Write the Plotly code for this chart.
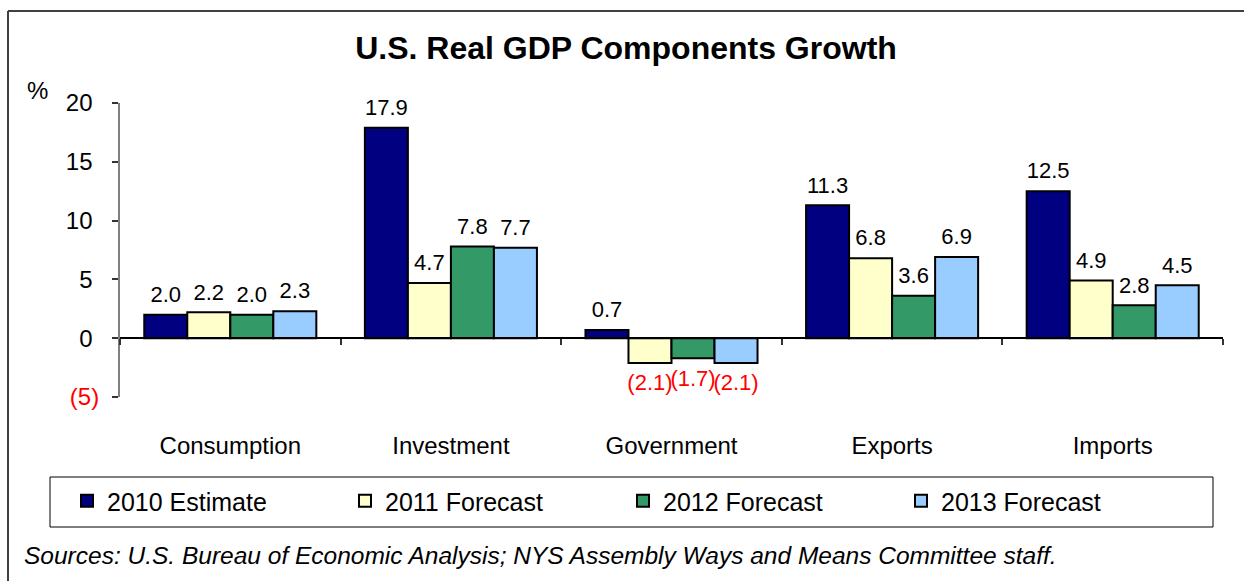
import plotly.graph_objects as go

categories = ["Consumption", "Investment", "Government", "Exports", "Imports"]
series_names = ["2010 Estimate", "2011 Forecast", "2012 Forecast", "2013 Forecast"]
est_2010 = [2.0, 17.9, 0.7, 11.3, 12.5]
fc_2011 = [2.2, 4.7, -2.1, 6.8, 4.9]
fc_2012 = [2.0, 7.8, -1.7, 3.6, 2.8]
fc_2013 = [2.3, 7.7, -2.1, 6.9, 4.5]
series_values = [est_2010, fc_2011, fc_2012, fc_2013]
series_colors = ["#000080", "#FFFFCC", "#339966", "#99CCFF"]

y_tickvals = [-5, 0, 5, 10, 15, 20]
y_ticktext = ["<span style='color:#FF0000'>(5)</span>",
              "0\u00a0", "5\u00a0", "10\u00a0", "15\u00a0", "20\u00a0"]

FONT = "Liberation Sans, Arial, sans-serif"


def fmt(v):
    return f"({abs(v):.1f})" if v < 0 else f"{v:.1f}"


fig = go.Figure()
for name, vals, col in zip(series_names, series_values, series_colors):
    fig.add_trace(go.Bar(
        name=name,
        x=categories,
        y=vals,
        offsetgroup=name,
        marker=dict(color=col, line=dict(color="#000000", width=2)),
        hoverinfo="x+y",
    ))

# value labels, grouped to sit over their bars
for name, vals in zip(series_names, series_values):
    fig.add_trace(go.Scatter(
        x=categories,
        y=vals,
        offsetgroup=name,
        mode="text+markers",
        marker=dict(size=[16 if v < 0 else 10 for v in vals], opacity=0),
        text=[fmt(v) for v in vals],
        textposition=["bottom center" if v < 0 else "top center" for v in vals],
        textfont=dict(family=FONT, size=22,
                      color=["#FF0000" if v < 0 else "#000000" for v in vals]),
        cliponaxis=False,
        showlegend=False,
        hoverinfo="skip",
    ))

# invisible helper trace so the zero-line axis with boundary ticks is drawn
fig.add_trace(go.Scatter(
    x=categories, y=[0] * len(categories), xaxis="x2", mode="markers",
    marker=dict(opacity=0), showlegend=False, hoverinfo="skip",
))

L, R, T, B = 120, 21, 103, 184
W, H = 1244, 581
pw, ph = W - L - R, H - T - B


def px_x(x):
    return (x - L) / pw


def px_y(y):
    return (H - B - y) / ph


fig.update_layout(
    width=W, height=H,
    margin=dict(l=L, r=R, t=T, b=B, pad=0),
    paper_bgcolor="white", plot_bgcolor="white",
    font=dict(family=FONT, size=24, color="#000000"),
    barmode="group", bargap=0.22, bargroupgap=0,
    scattermode="group", scattergap=0.22,
    title=dict(text="<b>U.S. Real GDP Components Growth</b>",
               x=px_x(626), xanchor="center", xref="paper",
               y=1 - 48 / H, yanchor="middle",
               font=dict(family=FONT, size=32, color="#000000")),
    xaxis=dict(type="category", showline=False, ticks="", showgrid=False,
               zeroline=False, tickfont=dict(size=24), ticklabelstandoff=32),
    xaxis2=dict(type="category", overlaying="x", matches="x", anchor="free",
                position=5 / 25, side="bottom", showline=True,
                linecolor="#000000", linewidth=1.5, ticks="outside",
                tickson="boundaries", ticklen=6, tickcolor="#333333",
                tickwidth=1.5, showticklabels=False, showgrid=False),
    yaxis=dict(range=[-5, 20], tickvals=y_tickvals, ticktext=y_ticktext,
               showline=True, linecolor="#808080", linewidth=2,
               ticks="outside", ticklen=6, tickcolor="#333333", tickwidth=1.5,
               showgrid=False, zeroline=False, tickfont=dict(size=24),
               ticklabelstandoff=8),
    legend=dict(orientation="h", x=px_x(67), xanchor="left",
                y=px_y(501), yanchor="middle", entrywidth=233,
                entrywidthmode="pixels", bgcolor="rgba(0,0,0,0)",
                font=dict(family=FONT, size=25), traceorder="normal"),
    showlegend=True,
)

# outer frame (left and top edges) and legend frame
fig.add_shape(type="line", xref="paper", yref="paper",
              x0=px_x(8), x1=px_x(8), y0=px_y(H + 5), y1=px_y(11),
              line=dict(color="#404040", width=2))
fig.add_shape(type="line", xref="paper", yref="paper",
              x0=px_x(8), x1=px_x(W + 5), y0=px_y(11), y1=px_y(11),
              line=dict(color="#404040", width=2))
fig.add_shape(type="rect", xref="paper", yref="paper",
              x0=px_x(50), x1=px_x(1213), y0=px_y(527), y1=px_y(477),
              line=dict(color="#000000", width=1), fillcolor="rgba(0,0,0,0)")

fig.add_annotation(text="%", xref="paper", yref="paper",
                   x=px_x(37), y=px_y(91), xanchor="center", yanchor="middle",
                   showarrow=False, font=dict(family=FONT, size=24))
fig.add_annotation(
    text="<i>Sources: U.S. Bureau of Economic Analysis; NYS Assembly Ways and Means Committee staff.</i>",
    xref="paper", yref="paper", x=px_x(22), y=px_y(555),
    xanchor="left", yanchor="middle", showarrow=False,
    font=dict(family=FONT, size=24.5))

fig.write_html("out.html")
